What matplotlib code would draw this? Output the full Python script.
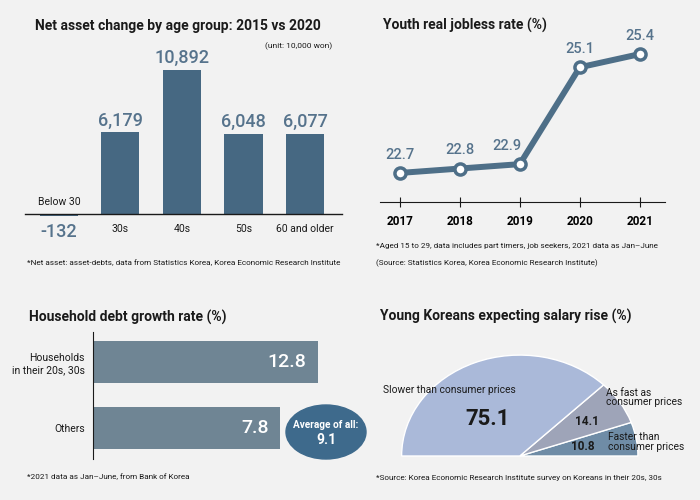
import matplotlib
matplotlib.use('Agg')
import matplotlib.pyplot as plt
from matplotlib.patches import Ellipse

# ---- data ----
age_groups = ['Below 30', '30s', '40s', '50s', '60 and older']
net_asset_change = [-132, 6179, 10892, 6048, 6077]

years = [2017, 2018, 2019, 2020, 2021]
jobless_rate = [22.7, 22.8, 22.9, 25.1, 25.4]

debt_groups = ['Households\nin their 20s, 30s', 'Others']
debt_growth = [12.8, 7.8]
debt_average = 9.1

salary_labels = ['Faster than\nconsumer prices', 'As fast as\nconsumer prices', 'Slower than consumer prices']
salary_share = [10.8, 14.1, 75.1]

# ---- style ----
plt.rcParams['font.family'] = ['Roboto', 'DejaVu Sans']
BG = '#f2f2f2'
BAR = '#466882'
LINE = '#4e6f88'
LABEL = '#56738c'
HBAR = '#6f8594'
DARK = '#1a1a1a'

W, H = 700, 500


def rect(l, t, r, b):
    return [l / W, 1 - b / H, (r - l) / W, (b - t) / H]


def ftext(px, py, s, **kw):
    fig.text(px / W, 1 - py / H, s, **kw)


fig = plt.figure(figsize=(7, 5), dpi=100, facecolor=BG)

# ---- 1. net asset change ----
ax1 = fig.add_axes(rect(25, 50, 342, 230))
ax1.set_facecolor(BG)
x = range(len(age_groups))
ax1.bar(x, net_asset_change, width=0.62, color=BAR)
ax1.set_xlim(-0.55, 4.6)
ax1.set_ylim(-1200, 12400)
for s in ['top', 'left', 'right']:
    ax1.spines[s].set_visible(False)
ax1.spines['bottom'].set_position(('data', 0))
ax1.spines['bottom'].set_color(DARK)
ax1.spines['bottom'].set_linewidth(1)
ax1.set_xticks([])
ax1.set_yticks([])
for i, v in enumerate(net_asset_change):
    if v >= 0:
        ax1.annotate(f'{v:,}', (i, v), xytext=(0, 2), textcoords='offset points',
                     ha='center', va='bottom', fontsize=13, fontweight='medium', color=LABEL)
        ax1.annotate(age_groups[i], (i, 0), xytext=(0, -11), textcoords='offset points',
                     ha='center', va='center', fontsize=7.5, color=DARK)
    else:
        ax1.annotate(f'-{abs(v)}', (i, v), xytext=(0, -5), textcoords='offset points',
                     ha='center', va='top', fontsize=13, fontweight='medium', color=LABEL)
        ax1.annotate(age_groups[i], (i, 0), xytext=(0, 9), textcoords='offset points',
                     ha='center', va='center', fontsize=7.5, color=DARK)

ftext(35, 26, 'Net asset change by age group: 2015 vs 2020', fontsize=10,
      fontweight='bold', va='center', color=DARK)
ftext(332, 46, '(unit: 10,000 won)', fontsize=6, ha='right', va='center', color=DARK)
ftext(27, 263, '*Net asset: asset-debts, data from Statistics Korea, Korea Economic Research Institute',
      fontsize=5.9, va='center', color=DARK)

# ---- 2. youth jobless rate ----
ax2 = fig.add_axes(rect(380, 40, 665, 202))
ax2.set_facecolor(BG)
ax2.plot(years, jobless_rate, color=LINE, lw=4.3, marker='o', ms=8,
         mfc='white', mec=LINE, mew=2.5, solid_capstyle='round')
ax2.set_xlim(2016.67, 2021.42)
ax2.set_ylim(22.04, 25.72)
for s in ['top', 'left', 'right']:
    ax2.spines[s].set_visible(False)
ax2.spines['bottom'].set_color(DARK)
ax2.set_yticks([])
ax2.set_xticks(years)
ax2.set_xticklabels([str(y) for y in years])
ax2.tick_params(axis='x', direction='inout', length=7, width=0.8, color=DARK,
                labelsize=8.5, pad=6)
for lab in ax2.get_xticklabels():
    lab.set_fontweight('bold')
for i, (yr, v) in enumerate(zip(years, jobless_rate)):
    dx = -9 if i == 2 else 0
    ax2.annotate(f'{v}', (yr, v), xytext=(dx, 13), textcoords='offset points',
                 ha='center', va='center', fontsize=10.5, fontweight='medium', color=LABEL)

ftext(383, 25, 'Youth real jobless rate (%)', fontsize=10, fontweight='bold',
      va='center', color=DARK)
ftext(376, 246, '*Aged 15 to 29, data includes part timers, job seekers, 2021 data as Jan\u2013June',
      fontsize=5.9, va='center', color=DARK)
ftext(376, 263, '(Source: Statistics Korea, Korea Economic Research Institute)',
      fontsize=5.9, va='center', color=DARK)

# ---- 3. household debt growth ----
ax3 = fig.add_axes(rect(93, 332, 345, 459))
ax3.set_facecolor(BG)
base = -16.8
ax3.barh(range(len(debt_groups)), [v - base for v in debt_growth], left=base,
         height=0.64, color=HBAR)
ax3.set_xlim(base, 16.4)
ax3.set_ylim(1.48, -0.46)
for s in ['top', 'bottom', 'right']:
    ax3.spines[s].set_visible(False)
ax3.spines['left'].set_color(DARK)
ax3.set_xticks([])
ax3.set_yticks(range(len(debt_groups)))
ax3.set_yticklabels(debt_groups)
ax3.tick_params(axis='y', length=0, pad=6, labelsize=7.5, labelcolor=DARK)
for i, v in enumerate(debt_growth):
    ax3.annotate(f'{v}', (v, i), xytext=(-8, 0), textcoords='offset points',
                 ha='right', va='center', fontsize=14, fontweight='medium', color='white')

fig.add_artist(Ellipse((326 / W, 1 - 432 / H), 80 / W, 54 / H,
                       transform=fig.transFigure, color='#3e6a8c'))
ftext(326, 425, 'Average of all:', fontsize=7.2, fontweight='bold', color='white',
      ha='center', va='center')
ftext(326, 440, f'{debt_average}', fontsize=10, fontweight='bold', color='white',
      ha='center', va='center')

ftext(29, 317, 'Household debt growth rate (%)', fontsize=10, fontweight='bold',
      va='center', color=DARK)
ftext(27, 477, '*2021 data as Jan\u2013June, from Bank of Korea', fontsize=5.9,
      va='center', color=DARK)

# ---- 4. salary expectations (half pie, squashed vertically) ----
ax4 = fig.add_axes(rect(378, 345, 697, 456))
ax4.set_facecolor(BG)
wedges, _ = ax4.pie(salary_share + [sum(salary_share)], startangle=0,
                    colors=['#6f8ca6', '#9ea4b8', '#aab9d9', 'none'],
                    wedgeprops=dict(edgecolor='white', linewidth=1))
wedges[-1].set_visible(False)
ax4.set_aspect('auto')
ax4.set_xlim(-1.2, 1.5)
ax4.set_ylim(0, 1.1)
ax4.axis('off')

ax4.text(-1.16, 0.65, salary_labels[2], fontsize=7.4, va='center', color=DARK)
ax4.text(-0.27, 0.37, f'{salary_share[2]}', fontsize=16, fontweight='bold',
         ha='center', va='center', color=DARK)
ax4.text(0.57, 0.34, f'{salary_share[1]}', fontsize=8.5, fontweight='bold',
         ha='center', va='center', color=DARK)
ax4.text(0.53, 0.09, f'{salary_share[0]}', fontsize=8.5, fontweight='bold',
         ha='center', va='center', color=DARK)
ax4.text(0.73, 0.58, salary_labels[1], fontsize=7.4, va='center', color=DARK,
         linespacing=0.95)
ax4.text(0.75, 0.14, salary_labels[0], fontsize=7.4, va='center', color=DARK,
         linespacing=0.95)

ftext(380, 316, 'Young Koreans expecting salary rise (%)', fontsize=10,
      fontweight='bold', va='center', color=DARK)
ftext(376, 478, '*Source: Korea Economic Research Institute survey on Koreans in their 20s, 30s',
      fontsize=5.9, va='center', color=DARK)

fig.savefig('out.png', dpi=100, facecolor=BG)
